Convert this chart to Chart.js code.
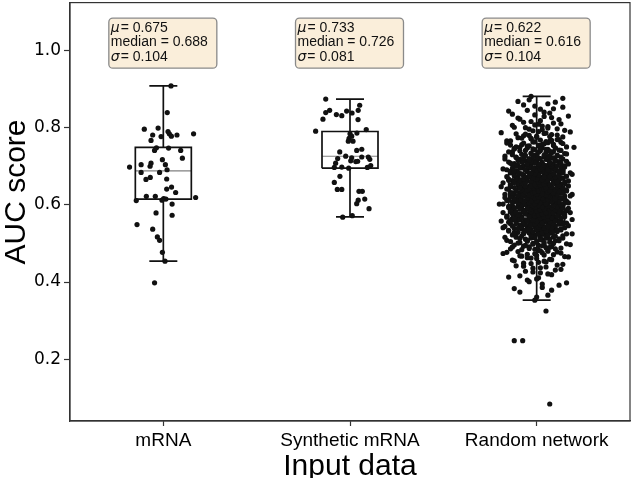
<!DOCTYPE html>
<html><head><meta charset="utf-8">
<script src="https://cdn.jsdelivr.net/npm/chart.js@4.4.1/dist/chart.umd.min.js"></script>
<style>html,body{margin:0;padding:0;background:#fff;}</style>
</head><body>
<canvas id="c" width="634" height="478"></canvas>
<script>
// ---------- data ----------
const categories = ['mRNA', 'Synthetic mRNA', 'Random network'];
const yTickValues = [0.2, 0.4, 0.6, 0.8, 1.0];
const means = [0.675, 0.733, 0.622];
const medians = [0.688, 0.726, 0.616];
const sigmas = [0.104, 0.081, 0.104];
const q1 = [0.615, 0.695, 0.558];
const q3 = [0.749, 0.790, 0.691];
const whiskerLow = [0.454, 0.569, 0.353];
const whiskerHigh = [0.908, 0.874, 0.881];

const mrnaAUC = [0.908,0.839,0.796,0.799,0.781,0.790,0.784,0.778,0.781,0.784,0.767,0.777,0.748,0.741,0.747,0.741,0.721,0.717,0.698,0.704,0.708,0.700,0.704,0.691,0.684,0.684,0.666,0.671,0.667,0.646,0.641,0.632,0.622,0.622,0.616,0.615,0.612,0.619,0.611,0.602,0.579,0.573,0.549,0.537,0.517,0.508,0.477,0.454,0.398];
const mrnaJitter = [0.041,0.021,-0.102,-0.028,-0.057,0.025,0.032,0.043,0.073,0.162,-0.066,-0.012,-0.037,-0.047,0.028,0.093,0.102,-0.005,-0.181,-0.119,-0.066,-0.071,0.011,0.020,-0.119,-0.020,-0.093,-0.070,0.018,0.044,0.018,0.066,-0.091,-0.043,0.002,0.014,-0.007,0.173,-0.145,0.047,-0.039,0.047,-0.141,-0.057,-0.032,-0.020,-0.005,0.009,-0.047];

const synthAUC = [0.874,0.858,0.845,0.845,0.839,0.834,0.831,0.843,0.838,0.822,0.821,0.791,0.795,0.784,0.778,0.772,0.765,0.765,0.786,0.737,0.741,0.744,0.720,0.726,0.722,0.714,0.712,0.713,0.724,0.724,0.718,0.708,0.697,0.698,0.695,0.697,0.702,0.674,0.658,0.640,0.640,0.635,0.635,0.612,0.603,0.615,0.590,0.568,0.572];
const synthJitter = [-0.130,0.052,0.044,-0.109,-0.130,-0.073,-0.044,-0.018,0.011,-0.145,0.043,-0.184,0.087,0.000,0.009,-0.005,0.016,-0.009,0.037,-0.055,0.036,0.063,-0.066,-0.023,0.009,0.004,0.031,0.041,0.063,0.098,0.106,-0.077,-0.084,-0.044,-0.007,0.093,0.111,-0.054,-0.084,-0.068,-0.044,0.048,0.066,0.044,0.036,0.079,0.102,-0.039,0.012];

const randomAUC = [
0.353,0.366,0.374,0.386,0.392,0.401,0.408,0.413,0.419,0.424,0.428,
0.431,0.436,0.439,0.442,0.446,0.449,
0.451,0.454,0.457,0.459,0.462,0.465,0.467,0.469,
0.471,0.472,0.474,0.476,0.478,0.479,0.481,0.483,0.485,0.486,0.488,0.489,
0.491,0.492,0.493,0.495,0.496,0.497,0.499,0.500,0.502,0.503,0.504,0.506,0.507,0.508,0.509,
0.511,0.512,0.514,0.514,0.516,0.517,0.517,0.519,0.520,0.521,0.522,0.522,0.524,0.525,0.526,0.526,0.527,0.528,0.529,0.529,
0.531,0.531,0.532,0.533,0.534,0.535,0.535,0.536,0.537,0.538,0.538,0.539,0.540,0.541,0.542,0.543,0.543,0.544,0.545,0.546,0.547,0.547,0.548,0.549,
0.550,0.551,0.551,0.552,0.553,0.553,0.554,0.555,0.556,0.556,0.557,0.558,0.558,0.559,0.560,0.561,0.561,0.562,0.563,0.564,0.564,0.565,0.566,0.567,0.567,0.568,0.569,0.569,
0.570,0.571,0.571,0.572,0.573,0.573,0.574,0.575,0.575,0.576,0.577,0.577,0.578,0.579,0.579,0.580,0.581,0.581,0.582,0.583,0.583,0.584,0.585,0.585,0.586,0.587,0.587,0.588,0.589,0.589,0.590,
0.591,0.591,0.592,0.592,0.593,0.594,0.594,0.595,0.596,0.596,0.597,0.597,0.598,0.599,0.599,0.600,0.601,0.601,0.602,0.602,0.603,0.604,0.604,0.605,0.606,0.606,0.607,0.607,0.608,0.608,0.609,0.609,0.610,0.610,
0.611,0.611,0.612,0.612,0.613,0.613,0.614,0.614,0.615,0.615,0.616,0.616,0.617,0.617,0.618,0.619,0.619,0.620,0.620,0.621,0.621,0.622,0.622,0.623,0.624,0.624,0.625,0.625,0.626,0.626,0.627,0.628,0.628,0.629,0.629,
0.630,0.631,0.631,0.632,0.632,0.633,0.633,0.634,0.635,0.635,0.636,0.636,0.637,0.638,0.638,0.639,0.639,0.640,0.641,0.641,0.642,0.642,0.643,0.644,0.644,0.645,0.645,0.646,0.647,0.647,0.648,0.648,0.649,0.649,
0.650,0.651,0.651,0.652,0.653,0.653,0.654,0.655,0.655,0.656,0.657,0.657,0.658,0.659,0.659,0.660,0.661,0.661,0.662,0.663,0.663,0.664,0.665,0.665,0.666,0.667,0.667,0.668,0.669,0.669,0.670,
0.671,0.671,0.672,0.673,0.674,0.674,0.675,0.676,0.677,0.677,0.678,0.679,0.680,0.680,0.681,0.682,0.683,0.683,0.684,0.685,0.686,0.686,0.687,0.688,0.689,0.689,0.690,0.690,
0.691,0.692,0.693,0.693,0.694,0.695,0.696,0.697,0.697,0.698,0.699,0.700,0.701,0.702,0.702,0.703,0.704,0.705,0.706,0.706,0.707,0.708,0.709,0.710,
0.711,0.712,0.713,0.714,0.714,0.716,0.717,0.718,0.719,0.720,0.721,0.722,0.723,0.724,0.725,0.726,0.727,0.728,0.729,0.730,
0.731,0.733,0.734,0.736,0.737,0.738,0.740,0.741,0.742,0.744,0.745,0.746,0.747,0.748,0.749,0.750,
0.752,0.754,0.755,0.757,0.758,0.760,0.762,0.763,0.765,0.766,0.768,0.769,
0.771,0.773,0.776,0.778,0.780,0.782,0.784,0.786,0.789,
0.792,0.795,0.797,0.800,0.803,0.806,0.809,
0.812,0.816,0.821,0.825,0.829,
0.833,0.838,0.843,0.848,
0.853,0.859,0.866,
0.872,0.881,
0.361,0.379,0.383,0.395,0.398,0.405,
0.411,0.416,0.421,0.426,0.433,0.437,0.441,0.444,0.448,
0.452,0.455,0.458,0.461,0.463,0.466,0.468,
0.470,0.473,0.475,0.477,0.480,0.482,0.484,0.486,0.487,0.490,
0.491,0.494,0.495,0.497,0.498,0.500,0.501,0.503,0.504,0.505,0.507,0.508,0.510,
0.511,0.513,0.514,0.515,0.516,0.518,0.519,0.520,0.521,0.523,0.524,0.525,0.526,0.527,0.528,0.529,0.530,
0.531,0.532,0.533,0.534,0.535,0.536,0.537,0.538,0.539,0.540,0.541,0.541,0.542,0.543,0.544,0.545,0.546,0.547,0.548,0.549,0.550,
0.551,0.552,0.552,0.553,0.554,0.555,0.555,0.556,0.557,0.558,0.559,0.559,0.560,0.561,0.562,0.563,0.563,0.564,0.565,0.566,0.566,0.567,0.568,0.569,0.570,
0.571,0.572,0.572,0.573,0.574,0.575,0.576,0.576,0.577,0.578,0.578,0.579,0.580,0.580,0.581,0.582,0.583,0.584,0.584,0.585,0.586,0.586,0.587,0.588,0.588,0.589,0.590,
0.591,0.592,0.593,0.593,0.594,0.595,0.595,0.596,0.597,0.598,0.598,0.599,0.600,0.600,0.601,0.602,0.603,0.603,0.604,0.605,0.605,0.606,0.607,0.607,0.608,0.609,0.609,0.610,0.610,
0.611,0.612,0.612,0.613,0.614,0.614,0.615,0.616,0.616,0.617,0.618,0.618,0.619,0.620,0.620,0.621,0.622,0.622,0.623,0.623,0.624,0.625,0.625,0.626,0.627,0.627,0.628,0.629,0.629,0.630,
0.631,0.631,0.632,0.633,0.634,0.634,0.635,0.636,0.636,0.637,0.638,0.638,0.639,0.640,0.640,0.641,0.642,0.643,0.643,0.644,0.645,0.645,0.646,0.647,0.647,0.648,0.649,0.649,0.650,
0.651,0.652,0.652,0.653,0.654,0.655,0.655,0.656,0.657,0.658,0.658,0.659,0.660,0.661,0.661,0.662,0.663,0.664,0.664,0.665,0.666,0.667,0.667,0.668,0.669,0.669,0.670,
0.671,0.672,0.673,0.673,0.674,0.675,0.676,0.676,0.677,0.678,0.679,0.680,0.680,0.681,0.682,0.683,0.684,0.684,0.685,0.686,0.687,0.688,0.688,0.689,0.690,
0.691,0.692,0.693,0.694,0.695,0.696,0.697,0.698,0.699,0.700,0.700,0.701,0.702,0.703,0.704,0.705,0.706,0.707,0.708,0.708,0.709,0.710,
0.711,0.712,0.713,0.715,0.716,0.717,0.718,0.719,0.720,0.721,0.722,0.723,0.724,0.725,0.726,0.727,0.728,0.729,0.730,
0.732,0.733,0.735,0.736,0.737,0.739,0.740,0.741,0.743,0.744,0.745,0.746,0.747,0.748,0.749,0.750,
0.751,0.753,0.754,0.756,0.757,0.759,0.760,0.761,0.763,0.764,0.766,0.767,0.769,
0.772,0.774,0.775,0.777,0.779,0.781,0.783,0.785,0.787,0.790,
0.793,0.796,0.799,0.801,0.804,0.807,0.810,
0.814,0.818,0.822,0.826,0.830,
0.835,0.840,0.845,0.849,
0.856,0.862,0.868,
0.876
];
const randomJitter = [
-0.01,0.06,-0.09,0.03,0.12,-0.04,0.00,-0.15,0.08,0.02,
-0.06,0.10,-0.02,0.05,-0.11,0.14,-0.07,0.01,0.04,-0.13,
0.07,-0.03,0.17,-0.08,0.00,0.09,-0.05,-0.18,0.03,0.11,
-0.10,0.02,0.06,-0.01,-0.14,0.13,0.05,-0.04,0.08,-0.07,
0.01,-0.12,0.04,0.16,-0.02,-0.09,0.07,0.00,-0.05,0.10,
-0.16,0.03,-0.06,0.12,0.05,-0.03,-0.11,0.09,0.02,-0.08,
0.14,-0.01,0.06,-0.13,0.04,0.19,-0.07,0.01,-0.04,0.08,
-0.02,-0.10,0.11,0.03,-0.06,0.07,-0.15,0.00,0.13,-0.03,
0.05,-0.08,0.02,-0.12,0.09,0.15,-0.05,0.04,-0.01,-0.17,
0.10,0.01,-0.04,0.06,-0.09,0.03,0.12,-0.14,0.07,-0.02,
-0.07,0.16,0.00,-0.11,0.05,-0.03,0.08,0.02,-0.19,0.11,
0.04,-0.06,0.13,-0.01,-0.10,0.07,0.01,-0.13,0.09,0.03,
-0.04,0.10,-0.08,0.15,0.02,-0.02,-0.16,0.06,0.00,0.12,
-0.11,0.05,0.08,-0.05,0.01,-0.09,0.14,-0.03,0.04,0.18,
0.00,-0.07,0.03,0.11,-0.14,0.06,-0.01,0.09,-0.06,0.02,
0.13,-0.12,0.07,-0.04,0.05,0.17,-0.08,0.01,-0.02,-0.15,
0.08,0.03,-0.10,0.12,-0.05,0.00,0.06,-0.13,0.10,-0.03,
-0.01,0.14,-0.07,0.04,-0.18,0.09,0.02,-0.06,0.15,0.05,
-0.09,0.01,0.11,-0.02,0.07,-0.12,0.03,0.16,-0.04,0.00,
0.06,-0.15,0.02,0.10,-0.08,0.04,-0.03,0.13,-0.11,0.08,
-0.05,0.12,0.00,-0.10,0.05,-0.17,0.09,0.01,0.07,-0.02,
0.03,-0.06,0.15,-0.13,0.06,0.02,-0.01,0.11,-0.08,0.19,
-0.12,0.04,-0.04,0.08,0.00,-0.09,0.13,0.05,-0.14,0.01,
0.10,-0.03,0.07,-0.07,0.16,-0.01,0.03,-0.11,0.09,-0.05,
0.02,0.12,-0.16,0.06,-0.02,0.14,-0.08,0.00,0.04,-0.12,
-0.06,0.08,0.01,-0.14,0.11,-0.04,0.05,0.17,-0.10,0.03,
0.07,-0.01,-0.09,0.13,0.02,-0.07,0.10,-0.03,0.06,-0.18,
-0.02,0.15,0.04,-0.11,0.00,0.09,-0.05,0.12,-0.13,0.01,
0.05,-0.08,0.11,0.03,-0.15,0.07,-0.01,0.14,-0.06,0.10,
-0.10,0.02,-0.04,0.16,0.06,-0.12,0.00,0.08,0.04,-0.07,
0.12,-0.03,0.09,-0.09,0.01,0.18,-0.14,0.05,-0.02,0.07,
-0.05,0.11,-0.11,0.03,0.14,-0.06,0.02,-0.16,0.10,0.00,
0.08,-0.13,0.04,-0.01,0.06,0.13,-0.08,0.01,-0.04,0.15,
-0.07,0.05,-0.10,0.09,-0.03,0.02,0.17,-0.12,0.07,-0.01,
0.03,-0.15,0.12,0.00,-0.06,0.10,-0.02,0.06,-0.09,0.14,
-0.04,0.08,0.01,-0.11,0.13,0.04,-0.17,0.07,-0.01,0.11,
0.00,-0.08,0.15,-0.03,0.05,-0.13,0.09,0.02,-0.06,0.12,
0.06,-0.02,-0.12,0.10,0.03,-0.09,0.16,-0.05,0.01,-0.14,
0.09,0.04,-0.07,0.13,-0.01,0.07,-0.16,0.02,0.11,-0.03,
-0.08,0.14,0.00,-0.04,0.08,-0.11,0.05,0.18,-0.02,0.03,
0.11,-0.06,0.06,-0.13,0.01,0.09,-0.03,0.12,-0.10,0.04,
-0.01,0.07,-0.15,0.02,0.14,-0.07,0.10,-0.04,-0.03,0.00,
0.08,-0.12,0.03,0.16,-0.05,0.01,-0.09,0.06,-0.02,0.13,
0.02,-0.07,0.11,-0.03,0.05,-0.12,0.08,0.00,-0.05,0.15,
-0.09,0.04,-0.01,0.13,-0.16,0.06,0.01,-0.08,0.10,-0.04,
0.07,-0.13,0.03,-0.06,0.18,-0.02,0.09,-0.10,0.04,0.00,
-0.14,0.12,-0.05,0.02,0.07,-0.09,0.14,-0.01,-0.17,0.05,
0.10,-0.03,0.06,-0.11,0.01,0.16,-0.07,0.03,-0.12,0.08,
-0.02,0.09,-0.15,0.05,-0.06,0.11,0.00,-0.04,0.13,-0.10,
0.04,-0.18,0.08,0.01,-0.08,0.06,-0.13,0.17,-0.03,0.02,
-0.06,0.14,-0.01,-0.11,0.09,0.03,-0.07,0.12,-0.15,0.07,
0.00,-0.05,0.10,-0.14,0.05,-0.02,0.19,-0.09,0.06,-0.12,
0.13,-0.08,0.02,0.08,-0.16,0.04,-0.04,0.11,-0.01,0.06,
-0.10,0.01,0.15,-0.06,0.03,-0.13,0.07,-0.02,0.09,-0.18,
0.05,-0.11,-0.03,0.12,-0.07,0.00,0.16,-0.14,0.02,0.10,
-0.04,0.07,-0.09,0.04,0.14,-0.05,-0.12,0.08,-0.01,0.03,
0.11,-0.15,0.06,-0.02,0.01,0.09,-0.08,0.13,-0.06,-0.20,
-0.01,0.05,-0.10,0.17,-0.04,0.02,0.08,-0.13,0.12,-0.07,
0.08,-0.03,0.00,-0.16,0.10,-0.09,0.04,0.06,-0.11,0.15,
-0.12,0.10,-0.05,0.03,-0.01,0.13,-0.14,0.01,0.07,-0.03,
0.06,-0.08,0.18,-0.10,0.05,-0.04,0.02,-0.17,0.11,0.00,
-0.07,0.03,-0.02,0.09,-0.13,0.14,0.06,-0.06,-0.01,0.12,
0.01,-0.11,0.07,-0.05,0.16,-0.08,0.10,0.03,-0.15,0.04,
0.14,-0.02,-0.09,0.05,-0.04,0.08,-0.19,0.11,0.00,-0.06,
-0.03,0.12,0.02,-0.14,0.07,-0.01,0.04,-0.10,0.15,-0.08,
0.09,-0.06,-0.12,0.01,0.11,0.05,-0.03,0.17,-0.09,0.02,
-0.15,0.06,0.03,-0.07,0.00,-0.11,0.13,-0.02,0.08,-0.05,
0.04,0.10,-0.16,0.07,-0.04,0.12,-0.07,0.01,-0.12,0.19,
-0.08,-0.01,0.09,-0.03,0.14,-0.10,0.05,-0.14,0.03,0.07,
0.12,-0.12,0.00,0.06,-0.06,0.02,-0.18,0.10,-0.02,-0.09,
0.03,0.15,-0.04,-0.11,0.08,-0.05,0.11,0.04,-0.13,0.01,
-0.05,0.08,-0.14,0.13,-0.01,0.07,-0.08,-0.03,0.16,-0.10,
0.10,-0.04,0.05,-0.17,0.02,-0.07,0.09,0.00,-0.11,0.06,
-0.02,0.11,-0.06,0.04,-0.13,0.16,-0.03,0.08,0.01,-0.15,
0.07,-0.09,0.13,-0.01,0.05,-0.12,0.02,-0.05,0.10,0.20,
-0.11,0.02,-0.04,0.09,-0.08,0.03,0.14,-0.16,0.06,-0.02,
0.05,-0.14,0.08,0.12,-0.03,-0.10,0.00,0.07,-0.07,0.11,
-0.06,0.04,-0.19,0.01,0.15,-0.04,0.06,-0.12,0.03,-0.01,
0.13,-0.07,0.02,-0.09,0.08,0.17,-0.13,0.04,-0.05,0.09,
-0.01,0.06,-0.10,0.14,-0.15,0.00,0.10,-0.03,0.05,-0.08
];
const randomOutlierAUC = [0.325, 0.248, 0.248, 0.084];
const randomOutlierJitter = [0.05, -0.12, -0.075, 0.07];

// ---------- styling constants ----------
const BOX_HALF = 0.15, CAP_HALF = 0.075;
const ANNOT_TOP = 1.085;
const INK = '#111111';

const groups = [
  {auc: mrnaAUC, jit: mrnaJitter, cat: 0},
  {auc: synthAUC, jit: synthJitter, cat: 1},
  {auc: randomAUC, jit: randomJitter, cat: 2},
  {auc: randomOutlierAUC, jit: randomOutlierJitter, cat: 2}
];

const datasets = [];
groups.forEach(g => {
  datasets.push({
    type: 'scatter', order: 0,
    data: g.auc.map((v, k) => ({x: g.cat + (g.jit[k] || 0), y: v})),
    pointRadius: 2.6, pointBackgroundColor: INK, pointBorderWidth: 0, pointHoverRadius: 2.6
  });
});
function seg(pts, color, width) {
  return {type: 'line', order: 1, data: pts, showLine: true, borderColor: color, borderWidth: width,
          pointRadius: 0, fill: false, tension: 0, spanGaps: false};
}
categories.forEach((c, i) => {
  datasets.push(seg([{x:i-BOX_HALF,y:q1[i]},{x:i+BOX_HALF,y:q1[i]},{x:i+BOX_HALF,y:q3[i]},{x:i-BOX_HALF,y:q3[i]},{x:i-BOX_HALF,y:q1[i]}], INK, 1.7));
  datasets.push(seg([{x:i-BOX_HALF,y:medians[i]},{x:i+BOX_HALF,y:medians[i]}], '#808080', 1.1));
  datasets.push(seg([{x:i,y:q3[i]},{x:i,y:whiskerHigh[i]}], INK, 1.7));
  datasets.push(seg([{x:i,y:q1[i]},{x:i,y:whiskerLow[i]}], INK, 1.7));
  datasets.push(seg([{x:i-CAP_HALF,y:whiskerHigh[i]},{x:i+CAP_HALF,y:whiskerHigh[i]}], INK, 1.7));
  datasets.push(seg([{x:i-CAP_HALF,y:whiskerLow[i]},{x:i+CAP_HALF,y:whiskerLow[i]}], INK, 1.7));
});

function roundRect(ctx, x, y, w, h, r) {
  ctx.beginPath();
  ctx.moveTo(x + r, y);
  ctx.lineTo(x + w - r, y); ctx.arcTo(x + w, y, x + w, y + r, r);
  ctx.lineTo(x + w, y + h - r); ctx.arcTo(x + w, y + h, x + w - r, y + h, r);
  ctx.lineTo(x + r, y + h); ctx.arcTo(x, y + h, x, y + h - r, r);
  ctx.lineTo(x, y + r); ctx.arcTo(x, y, x + r, y, r);
  ctx.closePath();
}

const decor = {
  id: 'decor',
  afterDraw(chart) {
    const {ctx, chartArea: a, scales: {x, y}} = chart;
    ctx.save();
    ctx.strokeStyle = '#333'; ctx.lineWidth = 1.2;
    ctx.strokeRect(a.left, a.top, a.right - a.left, a.bottom - a.top);

    const fs = 14;
    categories.forEach((c, i) => {
      const cx = x.getPixelForValue(i);
      const top = y.getPixelForValue(ANNOT_TOP);
      const left = cx - 55, w = 108, h = 50;
      roundRect(ctx, left + 0.5, top + 0.5, w, h, 4);
      ctx.fillStyle = '#FAEEDA'; ctx.fill();
      ctx.strokeStyle = '#8a8a8a'; ctx.lineWidth = 1.3; ctx.stroke();
      ctx.fillStyle = INK; ctx.textBaseline = 'middle'; ctx.textAlign = 'left';
      const tx = left + 2.5;
      const l1 = top + 10.5, l2 = l1 + 14.3, l3 = l2 + 14.5;
      ctx.font = 'italic ' + fs + 'px "DejaVu Sans"';
      ctx.fillText('\u03bc', tx, l1);
      let wm = ctx.measureText('\u03bc').width;
      ctx.font = fs + 'px "Liberation Sans", Arial, sans-serif';
      ctx.fillText('= ' + means[i].toFixed(3), tx + wm + 1, l1);
      ctx.fillText('median = ' + medians[i].toFixed(3), tx, l2);
      ctx.font = 'italic ' + fs + 'px "DejaVu Sans"';
      ctx.fillText('\u03c3', tx, l3);
      wm = ctx.measureText('\u03c3').width;
      ctx.font = fs + 'px "Liberation Sans", Arial, sans-serif';
      ctx.fillText('= ' + sigmas[i].toFixed(3), tx + wm + 1, l3);
    });

    // axis titles
    ctx.fillStyle = '#000';
    ctx.font = '30px "Liberation Sans", Arial, sans-serif';
    ctx.textAlign = 'center'; ctx.textBaseline = 'alphabetic';
    ctx.fillText('Input data', (a.left + a.right) / 2, 475);
    ctx.save();
    ctx.translate(25, 192);
    ctx.rotate(-Math.PI / 2);
    ctx.fillText('AUC score', 0, 0);
    ctx.restore();
    ctx.restore();
  }
};

new Chart(document.getElementById('c'), {
  type: 'scatter',
  data: {datasets},
  options: {
    responsive: false, animation: false, devicePixelRatio: 1,
    layout: {padding: {top: 2, right: 4, left: 0, bottom: 0}},
    plugins: {legend: {display: false}, tooltip: {enabled: false}},
    scales: {
      x: {
        type: 'linear', min: -0.5, max: 2.5,
        afterBuildTicks: s => { s.ticks = categories.map((c, i) => ({value: i})); },
        afterFit: s => { s.height = 57; s.paddingLeft = 0; s.paddingRight = 0; },
        ticks: {callback: v => categories[v], color: '#000', padding: 3, autoSkip: false, maxRotation: 0,
                font: {family: '"Liberation Sans", Arial, sans-serif', size: 19}},
        grid: {display: true, drawOnChartArea: false, drawTicks: true, tickLength: 5, tickColor: '#333', tickWidth: 1.2},
        border: {display: true, color: '#333', width: 1.2}
      },
      y: {
        type: 'linear', min: 0.04, max: 1.124,
        afterBuildTicks: s => { s.ticks = yTickValues.map(v => ({value: v})); },
        afterFit: s => { s.width = 70; s.paddingTop = 0; s.paddingBottom = 0; },
        ticks: {callback: v => v.toFixed(1), color: '#000', padding: 3,
                font: {family: '"DejaVu Sans", sans-serif', size: 17}},
        grid: {display: true, drawOnChartArea: false, drawTicks: true, tickLength: 6, tickColor: '#333', tickWidth: 1.2},
        border: {display: true, color: '#333', width: 1.2}
      }
    }
  },
  plugins: [decor]
});
</script>
</body></html>
